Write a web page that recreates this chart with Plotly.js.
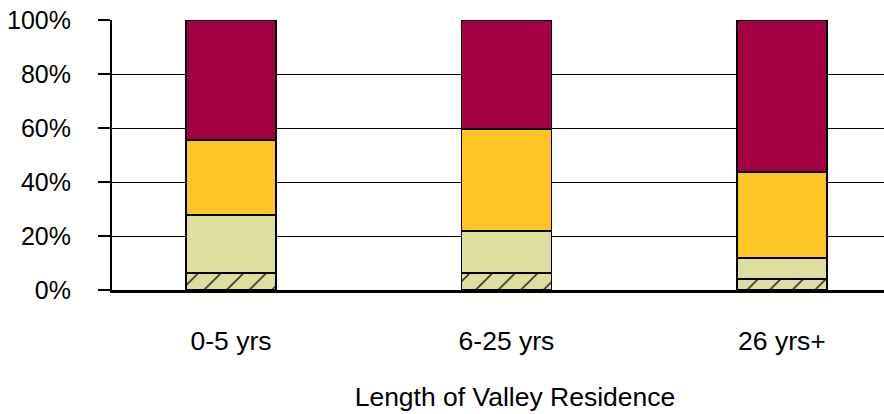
<!DOCTYPE html>
<html><head><meta charset="utf-8">
<script src="https://cdn.plot.ly/plotly-3.0.1.min.js"></script>
<style>html,body{margin:0;padding:0;background:#fff;overflow:hidden}#chart{width:918px;height:414px}</style>
</head><body><div id="chart"></div>
<script>
const categories = ["0-5 yrs", "6-25 yrs", "26 yrs+"];
const seriesHatched = [6.3, 6.3, 4.1];
const seriesLight = [21.5, 15.6, 7.8];
const seriesYellow = [27.8, 37.7, 31.8];
const seriesRed = [44.4, 40.4, 56.3];
const yTickVals = [0, 20, 40, 60, 80, 100];
const yTickText = ["0%", "20%", "40%", "60%", "80%", "100%"];

const line = {color: "#000", width: 1.5};
const w = 0.327;
const traces = [
  {type: "bar", x: categories, y: seriesHatched, width: w,
   marker: {color: "#DEDF9E", line: line, pattern: {shape: "/", fgcolor: "#000", bgcolor: "#DEDF9E", size: 16, solidity: 0.08}}},
  {type: "bar", x: categories, y: seriesLight, width: w, marker: {color: "#DEDF9E", line: line}},
  {type: "bar", x: categories, y: seriesYellow, width: w, marker: {color: "#FFC425", line: line}},
  {type: "bar", x: categories, y: seriesRed, width: w, marker: {color: "#A50044", line: line}}
];
const layout = {
  width: 918, height: 414, barmode: "stack", showlegend: false,
  margin: {l: 112, r: 0, t: 20, b: 124},
  paper_bgcolor: "#fff", plot_bgcolor: "#fff",
  font: {family: "Liberation Sans, Arial, sans-serif", size: 24, color: "#000"},
  xaxis: {type: "category", range: [-0.432, 2.494], showline: true, linecolor: "#000", linewidth: 2.5,
    ticks: "", ticklabelstandoff: 25, tickfont: {size: 26.5},
    title: {text: "Length of Valley Residence", font: {size: 26.5}, standoff: 33}},
  yaxis: {range: [0, 100], tickvals: yTickVals, ticktext: yTickText, showline: true, linecolor: "#000", linewidth: 2,
    ticks: "outside", ticklen: 12, tickwidth: 2, tickcolor: "#000", ticklabelstandoff: 22,
    showgrid: true, gridcolor: "#000", gridwidth: 1, zeroline: false, tickfont: {size: 25}}
};
Plotly.newPlot("chart", traces, layout, {displayModeBar: false});
</script></body></html>
